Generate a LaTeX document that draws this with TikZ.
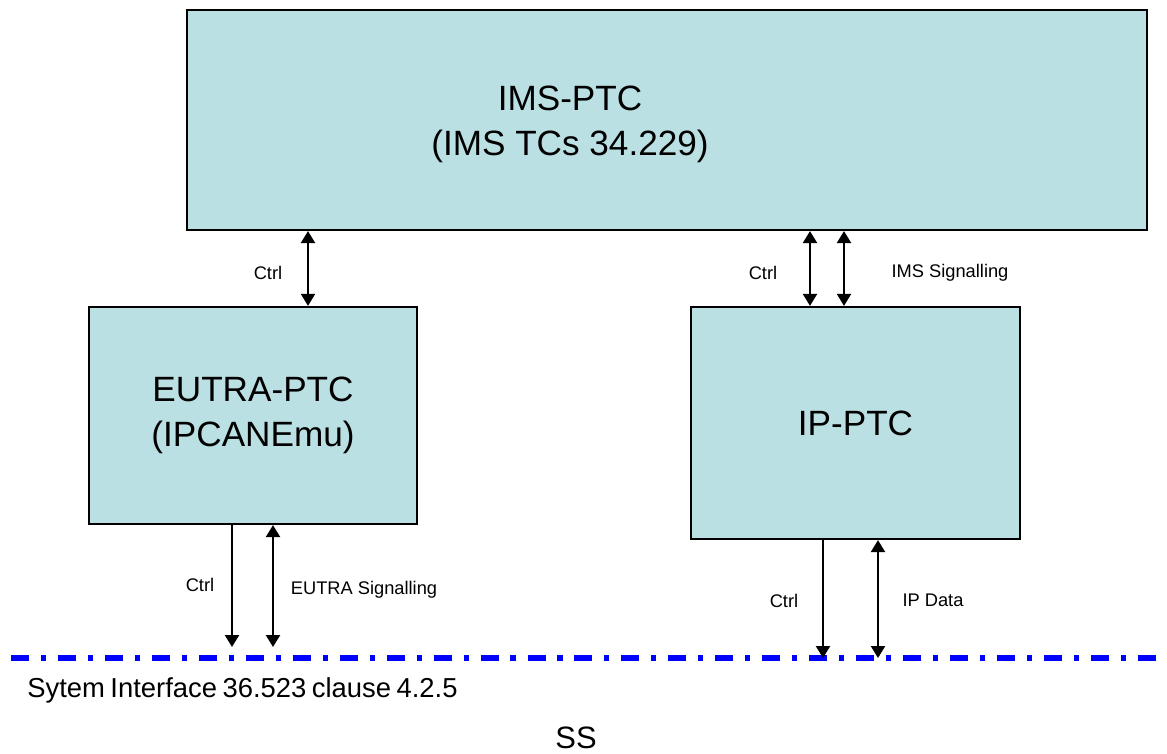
\documentclass[tikz,border=0pt]{standalone}
\usepackage{fontspec}
\setmainfont{Liberation Sans}
\usepackage{xcolor}
\usepackage{tikz}
\usetikzlibrary{
    arrows.meta,
    positioning,
}

\definecolor{ptcfill}{HTML}{BBE0E3}
\definecolor{ssblue}{HTML}{0000FF}

\newcommand{\tightwords}{\spaceskip=0.2em\relax}

\tikzset{
    ptcbox/.style={draw=black,line width=1.6pt,fill=ptcfill,inner sep=0pt},
    ptctext/.style={align=center,font=\fontsize{25}{32}\selectfont},
    lbl/.style={font=\fontsize{13}{15}\selectfont},
    onearrow/.style={line width=1.4pt,-{Triangle[length=8.5pt,width=10pt]}},
    twoarrow/.style={line width=1.4pt,{Triangle[length=8.5pt,width=10pt]}-{Triangle[length=8.5pt,width=10pt]}},
}

\begin{document}
\begin{tikzpicture}
    % \draw[help lines] grid (29,18);
    \useasboundingbox (0,0) rectangle (29.175,18.85);

    % Boxes
    \node[ptcbox,minimum width=24cm,minimum height=5.5cm] (ims) at (16.675,15.85) {};
    \node[ptctext] (imstxt) at (14.25,15.75) {IMS-PTC\\(IMS TCs 34.229)};
    \node[ptcbox,ptctext,minimum width=8.2cm,minimum height=5.425cm] (eutra) at (6.325,8.4625)
        {EUTRA-PTC\\(IPCANEmu)};
    \node[ptcbox,ptctext,minimum width=8.225cm,minimum height=5.8cm] (ip) at (21.3875,8.275) {IP-PTC};

    % System interface
    \coordinate (ifl) at (0.275,2.4);
    \coordinate (ifr) at (29.175,2.4);
    \draw[ssblue,line width=3.8pt,dash pattern=on 12.8pt off 8.5pt on 3.6pt off 8.5pt]
        (ifl) -- (ifr);
    \node[anchor=base west,inner sep=0pt,font=\fontsize{19.5}{23}\selectfont] (sysif) at (0.675,1.4)
        {\tightwords Sytem Interface 36.523 clause 4.2.5};
    \node[anchor=base,inner sep=0pt,text depth=0pt,font=\fontsize{22}{26}\selectfont] (ss) at (14.4,0.125) {SS};

    % Free ends on the interface
    \coordinate (e1) at (5.8,2.675);
    \coordinate (e2) at (6.825,2.675);
    \coordinate (p1) at (20.575,2.4);
    \coordinate (p2) at (21.95,2.4);

    % IMS <-> EUTRA
    \coordinate (c1) at (7.7,0);
    \draw[twoarrow] (ims.south -| c1) -- (eutra.north -| c1);
    \node[lbl] (ctrla) at (6.7,12.025) {Ctrl};

    % IMS <-> IP
    \coordinate (c2) at (20.25,0);
    \coordinate (c3) at (21.1,0);
    \draw[twoarrow] (ims.south -| c2) -- (ip.north -| c2);
    \draw[twoarrow] (ims.south -| c3) -- (ip.north -| c3);
    \node[lbl] (ctrlb) at (19.075,12.025) {Ctrl};
    \node[lbl] (imssig) at (23.75,12.025) {IMS Signalling};

    % EUTRA <-> SS
    \draw[onearrow] (eutra.south -| e1) -- (e1);
    \draw[twoarrow] (eutra.south -| e2) -- (e2);
    \node[lbl] (ctrlc) at (5.0,4.225) {Ctrl};
    \node[lbl] (eutrasig) at (9.1,4.1) {EUTRA Signalling};

    % IP <-> SS
    \draw[onearrow] (ip.south -| p1) -- (p1);
    \draw[twoarrow] (ip.south -| p2) -- (p2);
    \node[lbl] (ctrld) at (19.6,3.83) {Ctrl};
    \node[lbl] (ipdata) at (23.325,3.83) {IP Data};

\end{tikzpicture}
\end{document}
